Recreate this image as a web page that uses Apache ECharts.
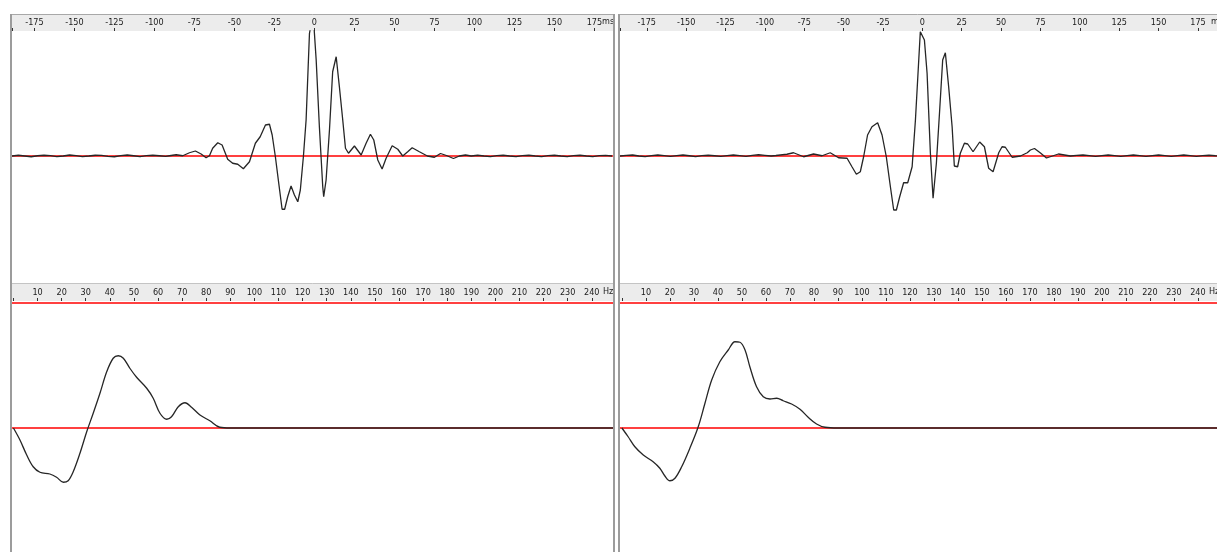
<!DOCTYPE html>
<html>
<head>
<meta charset="utf-8">
<title>Impulse and frequency response</title>
<script src="https://cdn.jsdelivr.net/npm/echarts@6/dist/echarts.min.js"></script>
<style>
  html, body { margin: 0; padding: 0; background: #ffffff; }
  #chart { width: 1217px; height: 552px; }
</style>
</head>
<body>
<div id="chart"></div>
<script>
// ---- Impulse response, left channel (time in ms, normalised amplitude) ----
const leftTimeMs = [-189, -185, -181, -177, -173, -169, -165, -161, -157, -153, -149, -145, -141, -137, -133, -129, -125, -121, -117, -113, -109, -105, -101, -97, -93,
  -90.6, -86.4, -82.3, -78.1, -74.4, -70.8, -67.7, -65.6, -63.6, -60.4, -57.7, -54.2, -51.1, -47.9, -44.4, -40.6, -36.9, -33.9, -30.6, -28.1, -26.4, -24.4,
  -22.3, -20.2, -18.6, -16.7, -14.6, -12.5, -10.4, -8.8, -6.9, -5.2, -3.1, -2.0, -0.4, 1.1, 3.1, 5.2, 5.8, 7.3, 9.4, 11.4, 13.6, 15.6, 17.7, 19.4, 21.3,
  25.0, 29.2, 32.3, 35.0, 37.1, 39.6, 42.3, 44.8, 48.6, 52.1, 55.2, 58.3, 61.1, 65.6, 70.6, 75, 78.8, 82.5, 86.9, 90.6, 94.4,
  98, 102, 106, 110, 114, 118, 122, 126, 130, 134, 138, 142, 146, 150, 154, 158, 162, 166, 170, 174, 178, 182, 186];
const leftImpulse = [0, 0.006, 0, -0.006, 0.002, 0.006, 0.003, -0.005, 0, 0.008, 0.003, -0.005, 0, 0.006, 0.005, -0.003, -0.006, 0.003, 0.008, 0.002, -0.005, 0.003, 0.006, 0.002, -0.003,
  0.002, 0.010, 0.002, 0.026, 0.040, 0.016, -0.014, 0.002, 0.062, 0.106, 0.088, -0.026, -0.058, -0.066, -0.102, -0.046, 0.102, 0.154, 0.248, 0.254, 0.168, -0.006,
  -0.218, -0.426, -0.426, -0.326, -0.240, -0.312, -0.366, -0.272, -0.006, 0.288, 0.98, 1.06, 1.06, 0.768, 0.234, -0.246, -0.326, -0.192, 0.208, 0.674, 0.794, 0.554, 0.288, 0.062, 0.022,
  0.080, 0.008, 0.102, 0.174, 0.128, -0.032, -0.104, -0.018, 0.082, 0.054, 0.0, 0.034, 0.066, 0.034, 0.0, -0.01, 0.02, 0.004, -0.02, 0.0, 0.008,
  0, 0.006, 0, -0.005, 0.003, 0.006, 0, -0.005, 0.003, 0.006, 0, -0.005, 0.003, 0.006, 0, -0.005, 0.003, 0.006, 0, -0.005, 0.003, 0.005, 0];

// ---- Impulse response, right channel ----
const rightTimeMs = [-192, -188, -184, -180, -176, -172, -168, -164, -160, -156, -152, -148, -144, -140, -136, -132, -128, -124, -120, -116, -112, -108, -104, -100, -96, -93,
  -90.2, -86.0, -81.8, -75.4, -69.1, -63.7, -58.5, -53.2, -47.8, -44.7, -41.9, -39.4, -37.3, -34.8, -32.0, -28.4, -25.6, -22.9, -20.3, -18.2, -16.5, -14.4,
  -11.9, -9.3, -6.5, -4.4, -1.3, 1.3, 3.0, 5.1, 6.8, 8.9, 11.0, 12.9, 14.6, 16.7, 18.9, 20.3, 22.4, 24.1, 26.7, 28.8, 32.2, 36.4, 39.4, 42.1, 44.9,
  48.5, 50.6, 52.7, 57.0, 62.3, 66.6, 68.6, 71.2, 75.0, 78.8, 82.6, 86.4, 90.2,
  94, 98, 102, 106, 110, 114, 118, 122, 126, 130, 134, 138, 142, 146, 150, 154, 158, 162, 166, 170, 174, 178, 182, 186, 189];
const rightImpulse = [0, 0.005, 0.008, 0, -0.005, 0.003, 0.008, 0.003, -0.003, 0.003, 0.008, 0.002, -0.005, 0.003, 0.006, 0.002, -0.003, 0.003, 0.008, 0.003, -0.003, 0.005, 0.01, 0.005, 0, 0.004,
  0.008, 0.014, 0.026, -0.006, 0.016, 0.002, 0.026, -0.014, -0.018, -0.086, -0.146, -0.126, -0.006, 0.168, 0.234, 0.266, 0.168, -0.006, -0.246, -0.432, -0.432, -0.326,
  -0.214, -0.214, -0.086, 0.288, 0.994, 0.928, 0.662, 0.022, -0.338, -0.058, 0.368, 0.768, 0.826, 0.554, 0.234, -0.080, -0.086, 0.022, 0.102, 0.096, 0.034, 0.112, 0.074, -0.098, -0.126,
  0.026, 0.074, 0.070, -0.010, 0.0, 0.026, 0.048, 0.06, 0.024, -0.016, 0, 0.016, 0.008,
  0, 0.005, 0.008, 0.003, -0.003, 0.003, 0.008, 0.003, -0.003, 0.003, 0.008, 0.003, -0.003, 0.003, 0.008, 0.003, -0.003, 0.003, 0.008, 0.003, -0.003, 0.003, 0.006, 0.002, 0];

// ---- Frequency response, left channel (Hz, normalised level) ----
const leftFreqHz = [0, 2.7, 5.5, 8.2, 11.0, 15.1, 17.9, 20.7, 22.7, 24.8, 27.6, 30.4, 33.1, 35.9, 38.7, 41.4, 43.5, 45.6, 48.3, 51.1, 55.3, 58.0,
  60.8, 63.6, 65.6, 68.4, 71.2, 73.9, 77.4, 81.5, 85.6, 90, 150, 200, 249];
const leftResponse = [0, -0.096, -0.216, -0.310, -0.354, -0.368, -0.394, -0.434, -0.422, -0.350, -0.202, -0.030, 0.118, 0.278, 0.450, 0.558, 0.578, 0.558, 0.478, 0.406, 0.318, 0.238,
  0.118, 0.070, 0.090, 0.170, 0.202, 0.166, 0.104, 0.058, 0.006, 0, 0, 0, 0];

// ---- Frequency response, right channel ----
const rightFreqHz = [0, 2.6, 5.4, 8.9, 13.0, 15.8, 17.9, 20.0, 22.1, 24.9, 28.3, 31.8, 34.6, 37.4, 40.8, 44.3, 47.1, 49.2, 51.3, 53.3, 56.1, 58.9,
  61.7, 64.5, 67.2, 70.7, 74.2, 77.6, 81.1, 84.6, 90, 150, 200, 250];
const rightResponse = [0, -0.070, -0.150, -0.216, -0.270, -0.322, -0.384, -0.422, -0.402, -0.310, -0.162, 0.010, 0.198, 0.384, 0.530, 0.624, 0.690, 0.686, 0.624, 0.490, 0.330, 0.250,
  0.232, 0.238, 0.218, 0.192, 0.150, 0.086, 0.032, 0.006, 0, 0, 0, 0];

// ---- Axis tick labels ----
const timeTicks = [-175, -150, -125, -100, -75, -50, -25, 0, 25, 50, 75, 100, 125, 150, 175];
const freqTicks = [10, 20, 30, 40, 50, 60, 70, 80, 90, 100, 110, 120, 130, 140, 150, 160, 170, 180, 190, 200, 210, 220, 230, 240];
const refLevels = { zero: 0, top: 1 };

const zip = (xs, ys) => xs.map((x, i) => [x, ys[i]]);

const FONT = "'DejaVu Sans Condensed','Liberation Sans Narrow',sans-serif";
const FONT_SIZE = 9;
const CURVE = '#262626';
const RED = '#ff0000';

// panel geometry (pixels)
const PANEL = {
  left:  { x: 12,  w: 601 },
  right: { x: 620, w: 600 }
};
const ROWS = {
  top:    { y: 31,  h: 252 },
  bottom: { y: 301, h: 251 }
};

const grids = [
  { left: PANEL.left.x,  top: ROWS.top.y,    width: PANEL.left.w,  height: ROWS.top.h,    outerBoundsMode: 'none' },
  { left: PANEL.right.x, top: ROWS.top.y,    width: PANEL.right.w, height: ROWS.top.h,    outerBoundsMode: 'none' },
  { left: PANEL.left.x,  top: ROWS.bottom.y, width: PANEL.left.w,  height: ROWS.bottom.h, outerBoundsMode: 'none' },
  { left: PANEL.right.x, top: ROWS.bottom.y, width: PANEL.right.w, height: ROWS.bottom.h, outerBoundsMode: 'none' }
];

// axis ranges per panel
const ranges = [
  [-189, 186.6],
  [-192, 189],
  [-0.6, 248.8],
  [-0.8, 249.2]
];

function topAxis(gridIndex, labels, unit, unitGap) {
  const [min, max] = ranges[gridIndex];
  return {
    type: 'value', gridIndex, position: 'top', min, max,
    axisLine: { show: false, onZero: false },
    splitLine: { show: false },
    axisTick: {
      show: true, inside: false, length: 3,
      lineStyle: { color: '#333', width: 1 },
      customValues: [min < 0 && labels[0] > 0 ? 0 : min].concat(labels)
    },
    axisLabel: {
      customValues: labels, margin: 4, fontSize: FONT_SIZE, fontFamily: FONT, color: '#1a1a1a',
      hideOverlap: false, formatter: v => String(v)
    },
    name: unit, nameLocation: 'end', nameGap: unitGap, nameMoveOverlap: false,
    nameTextStyle: { fontSize: FONT_SIZE, fontFamily: FONT, color: '#1a1a1a', align: 'left', verticalAlign: 'bottom', padding: [0, 0, 5, 0] }
  };
}

const xAxes = [
  topAxis(0, timeTicks, 'ms', -11),
  topAxis(1, timeTicks, 'ms', -9),
  topAxis(2, freqTicks, 'Hz', -10),
  topAxis(3, freqTicks, 'Hz', -11)
];

const yAxes = [
  { type: 'value', gridIndex: 0, min: -1.016, max: 1.0, show: false },
  { type: 'value', gridIndex: 1, min: -1.016, max: 1.0, show: false },
  { type: 'value', gridIndex: 2, min: -0.992, max: 1.016, show: false },
  { type: 'value', gridIndex: 3, min: -0.992, max: 1.016, show: false }
];

// horizontal red reference line across a panel at a given level
function refLine(i, level) {
  const [min, max] = ranges[i];
  return {
    type: 'line', xAxisIndex: i, yAxisIndex: i, z: 1, silent: true,
    data: [[min, level], [max, level]],
    showSymbol: false, animation: false,
    lineStyle: { color: RED, width: 1.4 }
  };
}

function curve(i, xs, ys, smooth) {
  return {
    type: 'line', xAxisIndex: i, yAxisIndex: i, data: zip(xs, ys), z: 3,
    showSymbol: false, smooth: smooth, clip: true, animation: false,
    lineStyle: { color: CURVE, width: 1.3 }
  };
}

const series = [
  refLine(0, refLevels.zero),
  refLine(1, refLevels.zero),
  refLine(2, refLevels.zero),
  refLine(2, refLevels.top),
  refLine(3, refLevels.zero),
  refLine(3, refLevels.top),
  curve(0, leftTimeMs, leftImpulse, false),
  curve(1, rightTimeMs, rightImpulse, false),
  curve(2, leftFreqHz, leftResponse, 0.35),
  curve(3, rightFreqHz, rightResponse, 0.35)
];

// header bands and panel frames
const BAND = '#ececec';
const FRAME = '#9c9c9c';
const graphic = [
  { type: 'rect', z: -10, shape: { x: 12, y: 14, width: 602, height: 17 }, style: { fill: BAND } },
  { type: 'rect', z: -10, shape: { x: 620, y: 14, width: 600, height: 17 }, style: { fill: BAND } },
  { type: 'rect', z: -10, shape: { x: 12, y: 283, width: 602, height: 18 }, style: { fill: BAND } },
  { type: 'rect', z: -10, shape: { x: 620, y: 283, width: 600, height: 18 }, style: { fill: BAND } },
  { type: 'line', z: 50, shape: { x1: 10, y1: 14.5, x2: 615, y2: 14.5 }, style: { stroke: '#a8a8a8', lineWidth: 1 } },
  { type: 'line', z: 50, shape: { x1: 618, y1: 14.5, x2: 1217, y2: 14.5 }, style: { stroke: '#a8a8a8', lineWidth: 1 } },
  { type: 'line', z: 50, shape: { x1: 12, y1: 283.5, x2: 613, y2: 283.5 }, style: { stroke: '#c4c4c4', lineWidth: 1 } },
  { type: 'line', z: 50, shape: { x1: 620, y1: 283.5, x2: 1217, y2: 283.5 }, style: { stroke: '#c4c4c4', lineWidth: 1 } },
  { type: 'line', z: 50, shape: { x1: 11, y1: 14, x2: 11, y2: 552 }, style: { stroke: FRAME, lineWidth: 2 } },
  { type: 'line', z: 50, shape: { x1: 614, y1: 14, x2: 614, y2: 552 }, style: { stroke: FRAME, lineWidth: 2 } },
  { type: 'line', z: 50, shape: { x1: 619, y1: 14, x2: 619, y2: 552 }, style: { stroke: FRAME, lineWidth: 2 } },
  { type: 'rect', z: 49, shape: { x: 615, y: 0, width: 3, height: 552 }, style: { fill: '#ffffff' } }
];

const chart = echarts.init(document.getElementById('chart'), null, { renderer: 'canvas' });
chart.setOption({
  animation: false,
  backgroundColor: '#ffffff',
  grid: grids,
  xAxis: xAxes,
  yAxis: yAxes,
  series: series,
  graphic: graphic
});
</script>
</body>
</html>
